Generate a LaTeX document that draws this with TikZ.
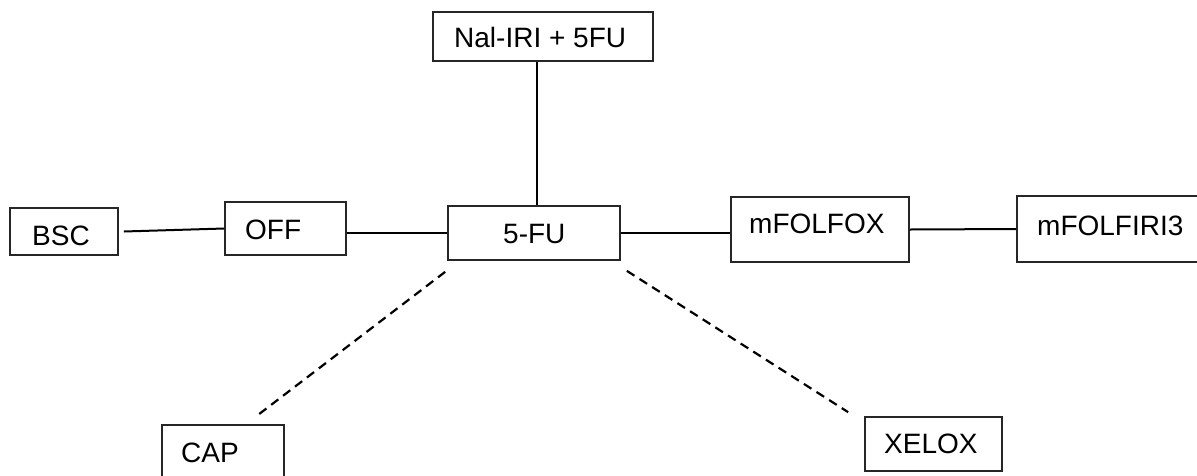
\documentclass[tikz,border=0pt]{standalone}
\usepackage{fontspec}
\setmainfont{Liberation Sans}
\usetikzlibrary{calc}
\begin{document}
\begin{tikzpicture}[x=1pt,y=-1pt,
  box/.style={draw=black!85, line width=1.7pt, rectangle, inner sep=0pt},
  txt/.style={anchor=base west, inner sep=0pt, font=\fontsize{28}{34}\selectfont},
  conn/.style={line width=2pt, black},
  dconn/.style={line width=2.2pt, black, dash pattern=on 9pt off 6pt}]
\useasboundingbox (0,0) rectangle (1197,475);
\clip (0,0) rectangle (1197,475);
% boxes
\node[box, minimum width=108pt, minimum height=47pt] (bsc) at (64,231.5) {};
\node[box, minimum width=121pt, minimum height=53pt] (off) at (285.5,228.5) {};
\node[box, minimum width=172pt, minimum height=54pt] (fu) at (534,233) {};
\node[box, minimum width=220pt, minimum height=49pt] (nal) at (543,36.5) {};
\node[box, minimum width=178pt, minimum height=65pt] (mfolfox) at (820,229.5) {};
\node[box, minimum width=193pt, minimum height=66pt] (mfolfiri) at (1113.5,229) {};
\node[box, minimum width=122pt, minimum height=64pt] (cap) at (223,457) {};
\node[box, minimum width=137pt, minimum height=54pt] (xelox) at (933.5,444) {};
% texts
\node[txt] (tbsc) at (32,245) {BSC};
\node[txt] (toff) at (245,239) {OFF};
\node[txt] (tfu) at (503,243) {5-FU};
\node[txt] (tnal) at (454,47) {Nal-IRI + 5FU};
\node[txt] (tmfolfox) at (749,233) {mFOLFOX};
\node[txt] (tmfolfiri) at (1037,235) {mFOLFIRI3};
\node[txt] (tcap) at (181,462) {CAP};
\node[txt] (txelox) at (884,453) {XELOX};
% connectors
\draw[conn] ([xshift=5pt]bsc.east) -- (off.west);
\draw[conn] (off.east |- fu.west) -- (fu.west);
\draw[conn] ([xshift=3pt]fu.north) -- ([xshift=3pt]fu.north |- nal.south);
\draw[conn] (fu.east) -- (fu.east -| mfolfox.west);
\draw[conn] (mfolfox.east) -- (mfolfiri.west);
\coordinate (capa) at ($(fu.south west)+(-2,11)$);
\coordinate (capb) at ($(cap.north)+(36,-10)$);
\coordinate (xela) at ($(fu.south east)+(6,10)$);
\coordinate (xelb) at ($(xelox.north west)+(-16,-4)$);
\draw[dconn] (capa) -- (capb);
\draw[dconn] (xela) -- (xelb);
\end{tikzpicture}
\end{document}
